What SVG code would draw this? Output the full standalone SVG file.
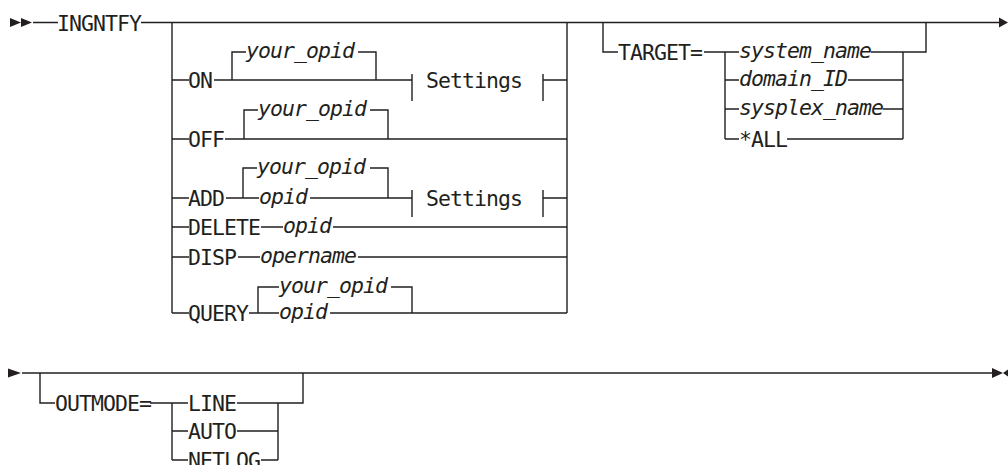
<svg xmlns="http://www.w3.org/2000/svg" width="1008" height="465" viewBox="0 0 1008 465">
<style>
.t{font-family:"DejaVu Sans Mono","Liberation Mono",monospace;font-size:21.5px;letter-spacing:-0.95px;fill:#231f20}
.i{font-style:italic}
.c path{fill:none;stroke:#231f20;stroke-width:1.4}
.ar{fill:#231f20}
</style>
<rect width="1008" height="465" fill="#fff"/>
<g id="connectors" class="c">
<path d="M33 22.5H58M141 22.5H1000"/>
<path d="M172 22.5V313M567 22.5V313"/>
<path d="M172 80H189M214 80H412M232 80V52H246M358 52H376V80M543 80H567"/>
<path d="M412 74V101M543 74V101"/>
<path d="M172 139H189M225 139H567M244 139V110H258M370 110H388V139"/>
<path d="M172 198H189M226 198H259M243 198V168H257M370 168H388V198M310 198H412M543 198H567"/>
<path d="M412 190V217M543 190V217"/>
<path d="M172 227H189M261 227H283M333 227H567"/>
<path d="M172 257H189M238 257H260M358 257H567"/>
<path d="M172 313H189M249 313H279M258 313V287H279M330 313H567M391 287H412V313"/>
<path d="M603 22.5V52H618M704 52H739M725 52V139M725 80H739M725 109H739M725 139H739"/>
<path d="M871 52H903M848 80H903M883 109H903M787 139H903M903 139V52H926V22.5"/>
<path d="M22 373H992"/>
<path d="M40 373V403H55M150 403H188M172 403V460M172 431H188M172 460H188"/>
<path d="M237 403H278M237 431H278M261 460H278M278 460V403H303V373"/>
</g>
<g id="start-marker"><path class="ar" d="M10 18L21 22.5L10 27ZM21 18L32 22.5L21 27Z"/></g>
<g id="continue-marker-1"><path class="ar" d="M999 17.5L1008 22.5L999 27.5Z"/></g>
<g id="continue-marker-2"><path class="ar" d="M8 368.5L21 373L8 377.5Z"/></g>
<g id="end-marker"><path class="ar" d="M992 368L1003 373L992 378ZM1008 369.5L1003 373L1008 376.5Z"/></g>
<g id="node-ingntfy"><text class="t" x="57" y="30.5">INGNTFY</text></g>
<g id="node-on">
<text class="t" x="188" y="88">ON</text>
<text class="t i" x="246" y="58">your_opid</text>
<text class="t" x="426" y="88">Settings</text>
</g>
<g id="node-off">
<text class="t" x="188" y="147">OFF</text>
<text class="t i" x="258" y="116">your_opid</text>
</g>
<g id="node-add">
<text class="t" x="188" y="206">ADD</text>
<text class="t i" x="257" y="174">your_opid</text>
<text class="t i" x="259" y="204">opid</text>
<text class="t" x="426" y="206">Settings</text>
</g>
<g id="node-delete">
<text class="t" x="188" y="235">DELETE</text>
<text class="t i" x="283" y="233">opid</text>
</g>
<g id="node-disp">
<text class="t" x="188" y="265">DISP</text>
<text class="t i" x="260" y="263">opername</text>
</g>
<g id="node-query">
<text class="t" x="188" y="321">QUERY</text>
<text class="t i" x="279" y="293">your_opid</text>
<text class="t i" x="279" y="319">opid</text>
</g>
<g id="node-target">
<text class="t" x="618" y="60">TARGET=</text>
<text class="t i" x="739" y="58">system_name</text>
<text class="t i" x="739" y="86">domain_ID</text>
<text class="t i" x="739" y="115">sysplex_name</text>
<text class="t" x="739" y="147">*ALL</text>
</g>
<g id="node-outmode">
<text class="t" x="55" y="411">OUTMODE=</text>
<text class="t" x="188" y="411">LINE</text>
<text class="t" x="188" y="439">AUTO</text>
<text class="t" x="188" y="468">NETLOG</text>
</g>
</svg>
